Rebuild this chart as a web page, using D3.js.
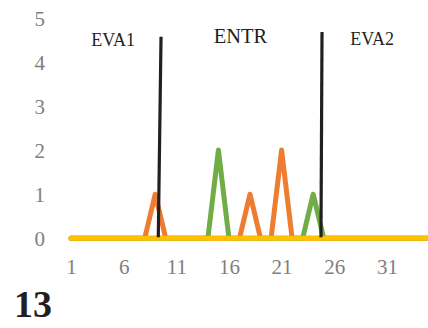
<!DOCTYPE html>
<html>
<head>
<meta charset="utf-8">
<script src="https://cdn.jsdelivr.net/npm/d3@7/dist/d3.min.js"></script>
<style>
  html, body { margin: 0; padding: 0; background: #fff; }
  svg { display: block; font-family: "Liberation Serif", "Times New Roman", serif; }
  svg text { font-family: "Liberation Serif", "Times New Roman", serif !important; }
</style>
</head>
<body>
<svg id="chart" width="428" height="328" font-family="Liberation Serif"></svg>
<script>
// Samples 1..35 along the session
const samples = d3.range(1, 36);
// Series counts per sample (1-based sample index -> value)
const orangeValues = [0,0,0,0,0,0,0,0,1,0,0,0,0,0,0,0,0,1,0,0,2,0,0,0,0,0,0,0,0,0,0,0,0,0,0];
const greenValues  = [0,0,0,0,0,0,0,0,0,0,0,0,0,0,2,0,0,0,0,0,0,0,0,1,0,0,0,0,0,0,0,0,0,0,0];
const yellowValues = [0,0,0,0,0,0,0,0,0,0,0,0,0,0,0,0,0,0,0,0,0,0,0,0,0,0,0,0,0,0,0,0,0,0,0];
const xTicks = [1, 6, 11, 16, 21, 26, 31];
const yTicks = [0, 1, 2, 3, 4, 5];

// Phase boundaries (sample units) and phase names
const boundaryBottomX = [9.29, 24.74];
const boundaryTopX = [9.55, 24.84];
const boundaryTop = [4.57, 4.68];
const phaseNames = ["EVA1", "ENTR", "EVA2"];
const phaseCenters = [5.0, 17.1, 29.6];
const phaseLevels = [4.36, 4.43, 4.38];
const panelLabel = "13";

const FONT = "Liberation Serif";
const svg = d3.select("#chart");

const x = d3.scaleLinear().domain([1, 35]).range([71, 429]);
const y = d3.scaleLinear().domain([0, 5]).range([238.3, 17.8]);

const line = d3.line()
  .x((d, i) => x(samples[i]))
  .y(d => y(d));

const series = [
  { values: orangeValues, color: "#ED7D31" },
  { values: greenValues, color: "#70AD47" },
  { values: yellowValues, color: "#FFC000" }
];

svg.append("g").selectAll("path")
  .data(series)
  .join("path")
  .attr("d", d => line(d.values))
  .attr("fill", "none")
  .attr("stroke", d => d.color)
  .attr("stroke-width", 5)
  .attr("stroke-linejoin", "round")
  .attr("stroke-linecap", "round");

// Phase boundary markers
svg.append("g").selectAll("line")
  .data(boundaryBottomX)
  .join("line")
  .attr("x1", d => x(d))
  .attr("y1", y(0) - 1)
  .attr("x2", (d, i) => x(boundaryTopX[i]))
  .attr("y2", (d, i) => y(boundaryTop[i]))
  .attr("stroke", "#231F20")
  .attr("stroke-width", 3.2);

// Axes: labels only, no lines
const xAxis = svg.append("g")
  .attr("transform", `translate(0,${y(0)})`)
  .call(d3.axisBottom(x).tickValues(xTicks).tickSize(0).tickPadding(21).tickFormat(d3.format("d")));
xAxis.attr("font-family", FONT).attr("font-size", 21);
xAxis.select(".domain").remove();
xAxis.selectAll("text").attr("fill", "#7f7f7f");

const yAxis = svg.append("g")
  .attr("transform", "translate(46,0)")
  .call(d3.axisLeft(y).tickValues(yTicks).tickSize(0).tickPadding(1).tickFormat(d3.format("d")));
yAxis.attr("font-family", FONT).attr("font-size", 21);
yAxis.select(".domain").remove();
yAxis.selectAll("text").attr("fill", "#7f7f7f").attr("dy", "0.36em");

// Phase names
svg.append("g").selectAll("text")
  .data(phaseNames)
  .join("text")
  .attr("x", (d, i) => x(phaseCenters[i]))
  .attr("y", (d, i) => y(phaseLevels[i]))
  .attr("text-anchor", "middle")
  .attr("font-family", FONT)
  .attr("font-size", (d, i) => i === 1 ? 20.5 : 18)
  .attr("fill", "#231F20")
  .text(d => d);

svg.append("text")
  .attr("x", 14)
  .attr("y", 317)
  .attr("font-family", FONT)
  .attr("font-size", 38)
  .attr("font-weight", "bold")
  .attr("fill", "#231F20")
  .text(panelLabel);
</script>
</body>
</html>
